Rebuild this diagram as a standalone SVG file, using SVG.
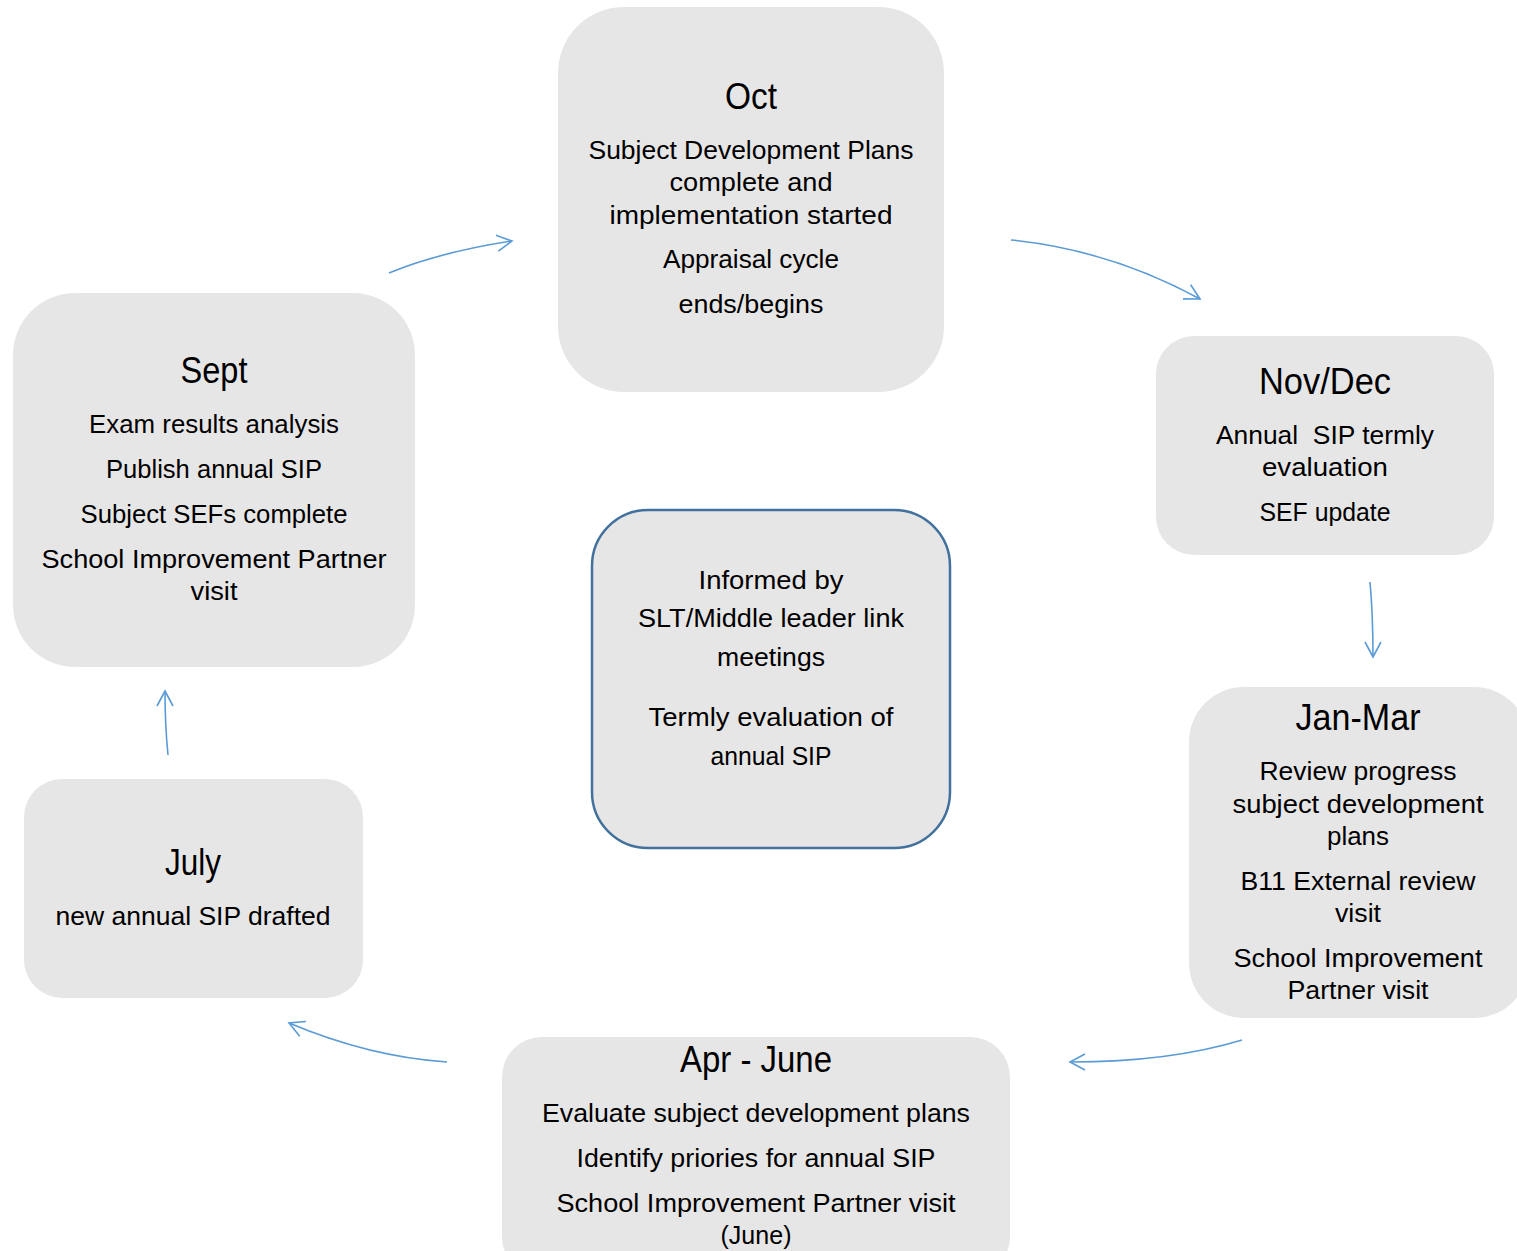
<svg xmlns="http://www.w3.org/2000/svg" width="1517" height="1251" viewBox="0 0 1517 1251">
<style>
.box{fill:#e7e6e6;stroke:none}
.ctr{fill:#e7e6e6;stroke:#41719c;stroke-width:2.5}
text{font-family:"Liberation Sans",Arial,sans-serif;fill:#000;text-anchor:middle}
.t{font-size:36px}
.b{font-size:26px}
.c{fill:none;stroke:#5b9bd5;stroke-width:1.6}
</style>
<defs>
<marker id="ah" markerUnits="userSpaceOnUse" markerWidth="20" markerHeight="20" refX="16" refY="9" orient="auto" viewBox="0 0 20 18">
<path d="M1,1 L16,9 L1,17" fill="none" stroke="#5b9bd5" stroke-width="1.6"/>
</marker>
</defs>
<rect width="1517" height="1251" fill="#fff"/>

<g id="oct">
<rect class="box" x="558" y="7" width="386" height="385" rx="66"/>
<text class="t" x="751" y="109" textLength="52" lengthAdjust="spacingAndGlyphs">Oct</text>
<text class="b" x="751" y="159" textLength="325" lengthAdjust="spacingAndGlyphs">Subject Development Plans</text>
<text class="b" x="751" y="191" textLength="163" lengthAdjust="spacingAndGlyphs">complete and</text>
<text class="b" x="751" y="224" textLength="283" lengthAdjust="spacingAndGlyphs">implementation started</text>
<text class="b" x="751" y="268" textLength="176" lengthAdjust="spacingAndGlyphs">Appraisal cycle</text>
<text class="b" x="751" y="313" textLength="145" lengthAdjust="spacingAndGlyphs">ends/begins</text>
</g>

<g id="novdec">
<rect class="box" x="1156" y="336" width="338" height="219" rx="38"/>
<text class="t" x="1325" y="394" textLength="132" lengthAdjust="spacingAndGlyphs">Nov/Dec</text>
<text class="b" x="1325" y="444" textLength="218" lengthAdjust="spacingAndGlyphs" xml:space="preserve">Annual  SIP termly</text>
<text class="b" x="1325" y="476" textLength="126" lengthAdjust="spacingAndGlyphs">evaluation</text>
<text class="b" x="1325" y="521" textLength="131" lengthAdjust="spacingAndGlyphs">SEF update</text>
</g>

<g id="janmar">
<rect class="box" x="1189" y="687" width="340" height="331" rx="55"/>
<text class="t" x="1358" y="730" textLength="125" lengthAdjust="spacingAndGlyphs">Jan-Mar</text>
<text class="b" x="1358" y="780" textLength="197" lengthAdjust="spacingAndGlyphs">Review progress</text>
<text class="b" x="1358" y="813" textLength="251" lengthAdjust="spacingAndGlyphs">subject development</text>
<text class="b" x="1358" y="845" textLength="62" lengthAdjust="spacingAndGlyphs">plans</text>
<text class="b" x="1358" y="890" textLength="235" lengthAdjust="spacingAndGlyphs">B11 External review</text>
<text class="b" x="1358" y="922" textLength="46" lengthAdjust="spacingAndGlyphs">visit</text>
<text class="b" x="1358" y="967" textLength="249" lengthAdjust="spacingAndGlyphs">School Improvement</text>
<text class="b" x="1358" y="999" textLength="141" lengthAdjust="spacingAndGlyphs">Partner visit</text>
</g>

<g id="aprjune">
<rect class="box" x="502" y="1037" width="508" height="240" rx="40"/>
<text class="t" x="756" y="1072" textLength="152" lengthAdjust="spacingAndGlyphs">Apr - June</text>
<text class="b" x="756" y="1122" textLength="428" lengthAdjust="spacingAndGlyphs">Evaluate subject development plans</text>
<text class="b" x="756" y="1167" textLength="359" lengthAdjust="spacingAndGlyphs">Identify priories for annual SIP</text>
<text class="b" x="756" y="1212" textLength="399" lengthAdjust="spacingAndGlyphs">School Improvement Partner visit</text>
<text class="b" x="756" y="1244" textLength="71" lengthAdjust="spacingAndGlyphs">(June)</text>
</g>

<g id="july">
<rect class="box" x="24" y="779" width="339" height="219" rx="38"/>
<text class="t" x="193" y="875" textLength="56" lengthAdjust="spacingAndGlyphs">July</text>
<text class="b" x="193" y="925" textLength="275" lengthAdjust="spacingAndGlyphs">new annual SIP drafted</text>
</g>

<g id="sept">
<rect class="box" x="13" y="293" width="402" height="374" rx="62"/>
<text class="t" x="214" y="383" textLength="67" lengthAdjust="spacingAndGlyphs">Sept</text>
<text class="b" x="214" y="433" textLength="250" lengthAdjust="spacingAndGlyphs">Exam results analysis</text>
<text class="b" x="214" y="478" textLength="216" lengthAdjust="spacingAndGlyphs">Publish annual SIP</text>
<text class="b" x="214" y="523" textLength="267" lengthAdjust="spacingAndGlyphs">Subject SEFs complete</text>
<text class="b" x="214" y="568" textLength="345" lengthAdjust="spacingAndGlyphs">School Improvement Partner</text>
<text class="b" x="214" y="600" textLength="47" lengthAdjust="spacingAndGlyphs">visit</text>
</g>

<g id="center">
<rect class="ctr" x="592" y="510" width="358" height="338" rx="56"/>
<text class="b" x="771" y="589" textLength="145" lengthAdjust="spacingAndGlyphs">Informed by</text>
<text class="b" x="771" y="627" textLength="266" lengthAdjust="spacingAndGlyphs">SLT/Middle leader link</text>
<text class="b" x="771" y="666" textLength="108" lengthAdjust="spacingAndGlyphs">meetings</text>
<text class="b" x="771" y="726" textLength="245" lengthAdjust="spacingAndGlyphs">Termly evaluation of</text>
<text class="b" x="771" y="765" textLength="121" lengthAdjust="spacingAndGlyphs">annual SIP</text>
</g>

<g id="connectors">
<path class="c" d="M389,273 Q440,252 512,241" marker-end="url(#ah)"/>
<path class="c" d="M1011,240 Q1110,250 1200,299" marker-end="url(#ah)"/>
<path class="c" d="M1370,582 Q1373,615 1373,657" marker-end="url(#ah)"/>
<path class="c" d="M1242,1040 Q1170,1062 1070,1062" marker-end="url(#ah)"/>
<path class="c" d="M447,1062 Q370,1057 289,1023" marker-end="url(#ah)"/>
<path class="c" d="M168,755 Q165,725 165,691" marker-end="url(#ah)"/>
</g>
</svg>
